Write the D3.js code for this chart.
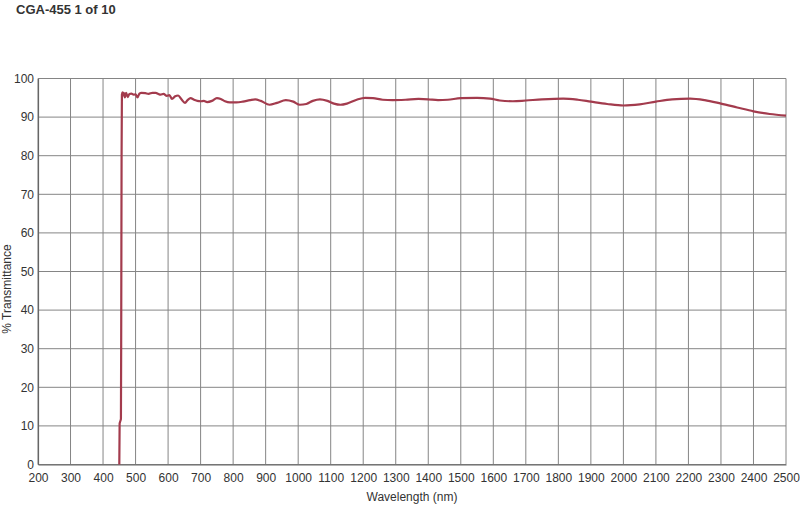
<!DOCTYPE html>
<html>
<head>
<meta charset="utf-8">
<script src="https://cdn.jsdelivr.net/npm/d3@7.9.0/dist/d3.min.js"></script>
<style>
  body { margin: 0; background: #fff; }
  text { font-family: "Liberation Sans", Arial, sans-serif; fill: #333; }
</style>
</head>
<body>
<svg id="chart" width="800" height="506"></svg>
<script>
// wavelength (nm) and % transmittance
const wavelengths = [
  450, 451, 453, 455, 456, 457, 458, 460, 462, 464, 467, 471, 476, 481, 487, 494,
  500, 506, 512, 518, 530, 540, 552, 562, 570, 577, 586, 596, 604, 612, 622, 631,
  641, 652, 660, 669, 680, 690, 700, 710, 720, 735, 750, 762, 775, 790, 810, 830,
  852, 868, 885, 912, 935, 962, 985, 1005, 1025, 1045, 1067, 1090, 1110, 1130,
  1150, 1180, 1206, 1230, 1260, 1290, 1330, 1370, 1400, 1430, 1460, 1500, 1550,
  1590, 1620, 1660, 1700, 1750, 1815, 1860, 1900, 1950, 2000, 2050, 2100, 2150,
  2205, 2250, 2300, 2350, 2400, 2450, 2500
];
const transmittance = [
  0, 10.6, 11.2, 11.8, 40, 80, 95.8, 96.4, 95.6, 96.3, 95.1, 96.3, 95.2, 96.0, 96.1, 95.8,
  95.9, 95.1, 96.1, 96.3, 96.2, 96.0, 96.3, 96.3, 96.0, 95.8, 96.0, 95.5, 95.7, 94.7, 95.4, 95.6,
  94.6, 93.7, 94.4, 94.9, 94.5, 94.2, 94.1, 94.2, 93.9, 94.2, 94.9, 94.7, 94.1, 93.8, 93.8, 94.0,
  94.4, 94.6, 94.2, 93.2, 93.7, 94.4, 94.0, 93.2, 93.4, 94.2, 94.6, 94.2, 93.5, 93.2,
  93.5, 94.5, 95.0, 94.9, 94.5, 94.4, 94.5, 94.7, 94.6, 94.4, 94.5, 94.9, 95.0,
  94.8, 94.3, 94.1, 94.3, 94.6, 94.8, 94.5, 94.0, 93.4, 93.0, 93.3, 94.0, 94.6,
  94.8, 94.4, 93.5, 92.5, 91.5, 90.8, 90.4
];

const xTicks = d3.range(200, 2501, 100);
const yTicks = d3.range(0, 101, 10);

const title = 'CGA-455 1 of 10';
const xLabel = 'Wavelength (nm)';
const yLabel = '% Transmittance';

const svg = d3.select('#chart');

let x = d3.scaleLinear().domain([200, 2500]).range([38, 786]);
let y = d3.scaleLinear().domain([0, 100]).range([464.5, 78.5]);

// grid
svg.append('g')
  .selectAll('line')
  .data(xTicks)
  .join('line')
  .attr('x1', (d) => x(d))
  .attr('x2', (d) => x(d))
  .attr('y1', y(0))
  .attr('y2', y(100))
  .attr('stroke', '#858585')
  .attr('stroke-width', 1);

svg.append('g')
  .selectAll('line')
  .data(yTicks)
  .join('line')
  .attr('x1', x(200))
  .attr('x2', x(2500))
  .attr('y1', (d) => y(d))
  .attr('y2', (d) => y(d))
  .attr('stroke', '#858585')
  .attr('stroke-width', 1);

// axes
let xAxis = d3.axisBottom(x)
  .tickValues(xTicks)
  .tickFormat(d3.format('d'))
  .tickSize(0)
  .tickPadding(9);
let yAxis = d3.axisLeft(y)
  .tickValues(yTicks)
  .tickFormat(d3.format('d'))
  .tickSize(0)
  .tickPadding(4);

let gx = svg.append('g')
  .attr('transform', `translate(0,${y(0)})`)
  .call(xAxis);
let gy = svg.append('g')
  .attr('transform', `translate(${x(200)},0)`)
  .call(yAxis);

[gx, gy].forEach((g) => {
  g.select('.domain').attr('stroke', '#666').attr('stroke-width', 1.2);
  g.selectAll('text')
    .attr('fill', '#333')
    .style('font-size', '12px')
    .style('font-family', '"Liberation Sans", Arial, sans-serif');
});

// curve
let points = wavelengths.map((w, i) => [w, transmittance[i]]);

let line = d3.line()
  .x((d) => x(d[0]))
  .y((d) => y(d[1]))
  .curve(d3.curveMonotoneX);

svg.append('path')
  .datum(points)
  .attr('d', line)
  .attr('fill', 'none')
  .attr('stroke', '#a33b4d')
  .attr('stroke-width', 2.2)
  .attr('stroke-linejoin', 'round');

// labels
svg.append('text')
  .attr('x', 16)
  .attr('y', 13.5)
  .style('font-size', '13px')
  .style('font-weight', 'bold')
  .text(title);

svg.append('text')
  .attr('x', 412)
  .attr('y', 501)
  .attr('text-anchor', 'middle')
  .style('font-size', '12px')
  .text(xLabel);

svg.append('text')
  .attr('transform', 'translate(11,289) rotate(-90)')
  .attr('text-anchor', 'middle')
  .style('font-size', '12px')
  .text(yLabel);
</script>
</body>
</html>
